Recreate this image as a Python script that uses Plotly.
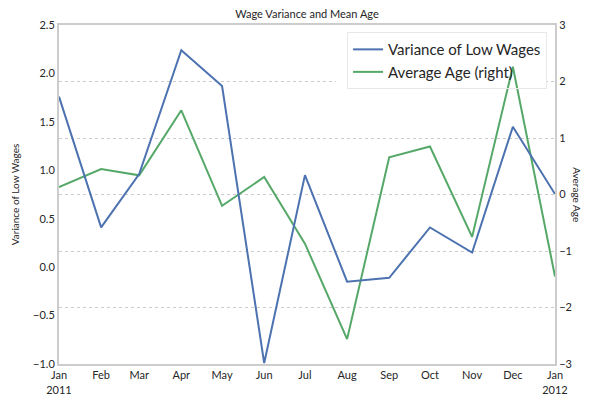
import plotly.graph_objects as go

months = ["2011-01-01", "2011-02-01", "2011-03-01", "2011-04-01", "2011-05-01", "2011-06-01",
          "2011-07-01", "2011-08-01", "2011-09-01", "2011-10-01", "2011-11-01", "2011-12-01",
          "2012-01-01"]
tick_labels = ["Jan<br>2011", "Feb", "Mar", "Apr", "May", "Jun", "Jul", "Aug", "Sep", "Oct",
               "Nov", "Dec", "Jan<br>2012"]
variance_low_wages = [1.76, 0.41, 0.96, 2.24, 1.87, -0.99, 0.95, -0.15, -0.11, 0.41, 0.15, 1.45, 0.755]
average_age = [0.13, 0.45, 0.34, 1.49, -0.20, 0.31, -0.87, -2.56, 0.66, 0.85, -0.75, 2.26, -1.45]

FONT = "Lato, 'Open Sans', sans-serif"
fig = go.Figure()
fig.add_trace(go.Scatter(x=months, y=variance_low_wages, mode="lines", name="Variance of Low Wages",
                         yaxis="y2", line=dict(color="#4C72B0", width=2)))
fig.add_trace(go.Scatter(x=months, y=average_age, mode="lines", name="Average Age (right)",
                         yaxis="y", line=dict(color="#55A868", width=2)))

fig.update_layout(
    width=593, height=408,
    margin=dict(l=59, r=38, t=25, b=42),
    paper_bgcolor="white", plot_bgcolor="white",
    font=dict(family=FONT, color="#262626", size=11),
    title=dict(text="Wage Variance and Mean Age", x=0.5, xref="paper", y=1, yref="container",
               yanchor="top", pad=dict(t=10), font=dict(size=11)),
    xaxis=dict(range=[months[0], months[-1]], tickvals=months, ticktext=tick_labels,
               showgrid=False, showline=True, linecolor="#cccccc", linewidth=2, mirror=True,
               ticks="", zeroline=False, tickfont=dict(size=11)),
    yaxis2=dict(range=[-1.0, 2.5], tickvals=[-1.0, -0.5, 0.0, 0.5, 1.0, 1.5, 2.0, 2.5],
                tickformat=".1f", showgrid=False, zeroline=False, showline=True,
                overlaying="y", side="left",
                linecolor="#cccccc", linewidth=2, ticks="",
                title=dict(text="Variance of Low Wages", font=dict(size=10), standoff=12)),
    yaxis=dict(range=[-3, 3], tickvals=[-3, -2, -1, 0, 1, 2, 3], side="right",
               showgrid=True, gridcolor="#cccccc", griddash="dot", gridwidth=1,
               zeroline=False, showline=True, linecolor="#cccccc", linewidth=2, ticks=""),
    legend=dict(x=0.984, y=0.979, xanchor="right", yanchor="top", bgcolor="rgba(255,255,255,0)",
                bordercolor="#e8e8e8", borderwidth=1, font=dict(size=15)),
    shapes=[dict(type="rect", xref="x", yref="y", x0="2011-07-24", x1="2011-12-26", y0=1.89, y1=2.88,
                 fillcolor="white", line=dict(width=0), layer="between")],
    annotations=[dict(text="Average Age", x=1.045, y=0.5, xref="paper", yref="paper",
                      textangle=90, showarrow=False, font=dict(size=10),
                      xanchor="center", yanchor="middle")],
)
fig.write_html("out.html")
